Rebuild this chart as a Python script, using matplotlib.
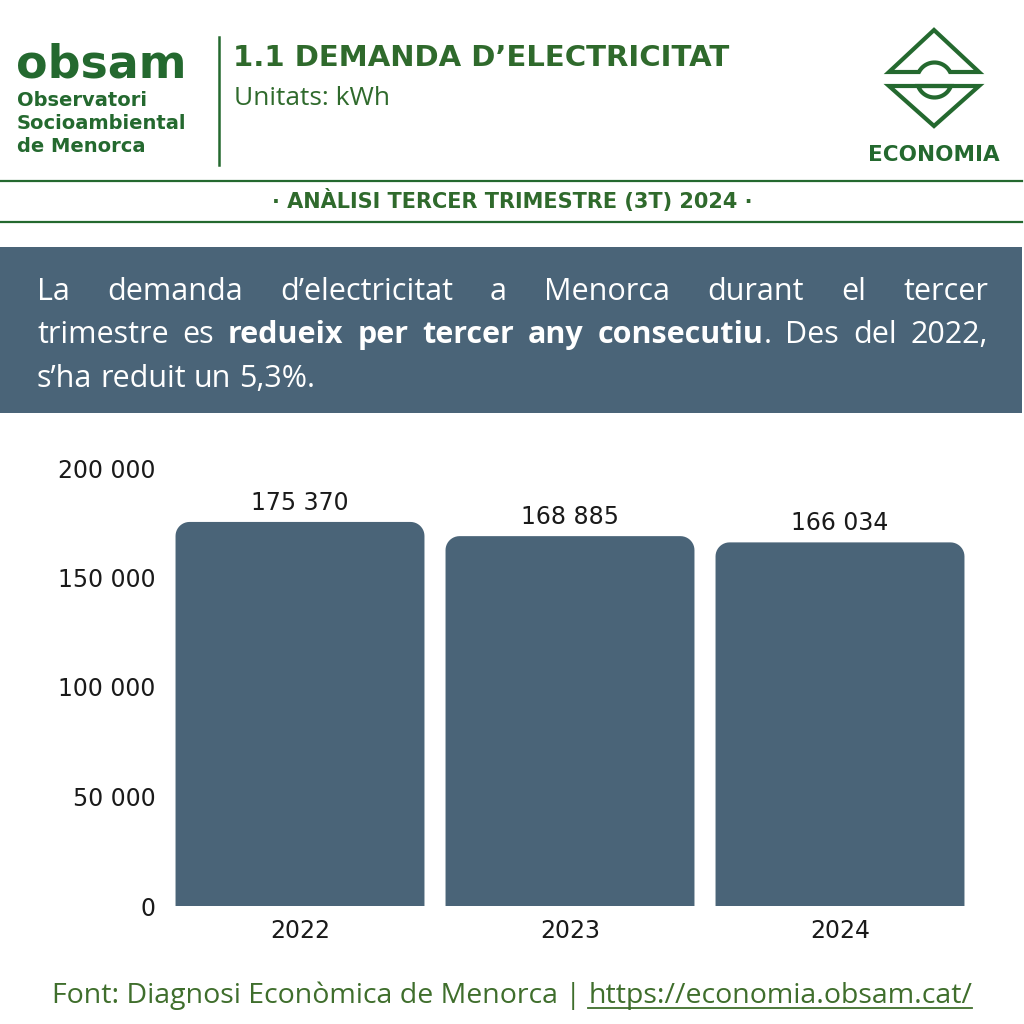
import numpy as np
import matplotlib.pyplot as plt
from matplotlib.patches import Rectangle, Polygon

# data
years = ['2022', '2023', '2024']
demand = [175370, 168885, 166034]
yticks = [0, 50000, 100000, 150000, 200000]

green = '#24692f'
dark_green = '#2f6a2c'
foot_green = '#3f6e2c'
bar_col = '#4a6478'

W = 1024
fig = plt.figure(figsize=(10.24, 10.24), dpi=100)
fig.patch.set_facecolor('white')

# background axes in pixel coordinates for header / banner / footer
bg = fig.add_axes([0, 0, 1, 1])
bg.set_xlim(0, W)
bg.set_ylim(W, 0)
bg.axis('off')

body_font = 'Open Sans'
num_font = 'DejaVu Sans'

# header left: obsam logo text
bg.text(16, 77, 'obsam', fontsize=33, fontweight='black', color=green,
        family='DejaVu Sans', va='baseline', ha='left')
for i, line in enumerate(['Observatori', 'Socioambiental', 'de Menorca']):
    bg.text(17, 106 + i * 23, line, fontsize=14, fontweight='bold', color=green,
            family='DejaVu Sans', va='baseline', ha='left')
bg.plot([219, 219], [37, 165], color=green, lw=1.8)

bg.text(233, 66, '1.1 DEMANDA D\u2019ELECTRICITAT', fontsize=21, fontweight='bold',
        color=dark_green, family='DejaVu Sans', va='baseline', ha='left')
bg.text(234, 105, 'Unitats: kWh', fontsize=19, color=dark_green,
        family=body_font, va='baseline', ha='left')

# economia logo: two triangles whose inner edges bend round a circle
cx, cy, R = 934.5, 80, 17.5
yu, yl = 72, 86
a_u = np.arcsin((cy - yu) / R)
a_l = np.arcsin((yl - cy) / R)
th_u = np.linspace(-a_u, -(np.pi - a_u), 24)  # upper cap (screen up = smaller y)
th_l = np.linspace(np.pi - a_l, a_l, 24)
upper = [(889, yu), (934, 30), (979, yu)] + \
    [(cx + R * np.cos(t), cy + R * np.sin(t)) for t in th_u]
lower = [(889, yl), (934, 126), (979, yl)] + \
    [(cx + R * np.cos(t), cy + R * np.sin(t)) for t in th_l]
for shape in (upper, lower):
    bg.add_patch(Polygon(shape, closed=True, fill=False, edgecolor=green,
                         lw=3.0, joinstyle='miter'))
bg.text(934, 161, 'ECONOMIA', fontsize=15.5, fontweight='bold', color=green,
        family='DejaVu Sans', va='baseline', ha='center')

# separator lines and subtitle
bg.plot([0, 1022], [181, 181], color=green, lw=1.6)
bg.plot([0, 1022], [222, 222], color=green, lw=1.6)
bg.text(512, 208, '\u00b7 AN\u00c0LISI TERCER TRIMESTRE (3T) 2024 \u00b7', fontsize=15,
        fontweight='bold', color=dark_green, family='DejaVu Sans',
        va='baseline', ha='center')

# banner
bg.add_patch(Rectangle((0, 247), 1022, 166, color=bar_col, lw=0))

renderer = fig.canvas.get_renderer()
FS = 22


def place_line(words, y, x0, x1, justify=True):
    # words: list of (text, weight, glued); glued words follow the previous one without a gap
    texts = []
    for w, wt, glued in words:
        t = bg.text(0, y, w, fontsize=FS, fontweight=wt, color='white',
                    family=body_font, va='baseline', ha='left')
        texts.append((t, glued))
    widths = [t.get_window_extent(renderer).width for t, _ in texts]
    n_gaps = sum(1 for i, (_, g) in enumerate(texts) if i > 0 and not g)
    if justify and n_gaps > 0:
        gap = (x1 - x0 - sum(widths)) / n_gaps
    else:
        gap = FS * 100 / 72 * 0.26
    x = x0
    for i, ((t, glued), wd) in enumerate(zip(texts, widths)):
        if i > 0 and not glued:
            x += gap
        t.set_x(x)
        x += wd


line1 = [(w, 'normal', False) for w in 'La demanda d\u2019electricitat a Menorca durant el tercer'.split()]
line2 = ([(w, 'normal', False) for w in 'trimestre es'.split()] +
         [(w, 'bold', False) for w in 'redueix per tercer any consecutiu'.split()] +
         [('.', 'normal', True)] +
         [(w, 'normal', False) for w in 'Des del 2022,'.split()])
line3 = [(w, 'normal', False) for w in 's\u2019ha reduit un 5,3%.'.split()]

place_line(line1, 300, 37, 988)
place_line(line2, 343, 37, 988)
place_line(line3, 387, 37, 988, justify=False)

# chart
ax = fig.add_axes([165 / W, 1 - 906 / W, 810 / W, 438 / W])
ax.set_facecolor('none')
x = np.arange(len(years))
bars = ax.bar(x, demand, width=0.922, color=bar_col)
ax.set_xlim(-0.5, len(years) - 0.5)
ax.set_ylim(0, 200000)
ax.set_yticks(yticks)
ax.set_yticklabels([f'{v:,}'.replace(',', ' ') for v in yticks])
ax.set_xticks(x)
ax.set_xticklabels(years)
ax.tick_params(axis='both', length=0, labelsize=17, labelcolor='#1a1a1a')
ax.tick_params(axis='y', pad=7)
ax.tick_params(axis='x', pad=9)
for lab in ax.get_xticklabels() + ax.get_yticklabels():
    lab.set_family(num_font)
for s in ax.spines.values():
    s.set_visible(False)

# rounded top corners built from each bar's geometry
rx = 14 / 270
ry = 14 * 200000 / 438
ang = np.linspace(0, np.pi / 2, 12)
for b in bars:
    bx, bw, bh = b.get_x(), b.get_width(), b.get_height()
    b.set_visible(False)
    left = [(bx + rx - rx * np.cos(t), bh - ry + ry * np.sin(t)) for t in ang]
    right = [(bx + bw - rx + rx * np.sin(t), bh - ry + ry * np.cos(t)) for t in ang]
    pts = [(bx, 0)] + left + right + [(bx + bw, 0)]
    ax.add_patch(Polygon(pts, closed=True, facecolor=bar_col, edgecolor='none'))
    ax.text(bx + bw / 2, bh + 3200, f'{int(bh):,}'.replace(',', ' '),
            ha='center', va='bottom', fontsize=17, family=num_font, color='#1a1a1a')

# footer
f1 = bg.text(52, 1003, 'Font: Diagnosi Econ\u00f2mica de Menorca | ', fontsize=20.5,
             color=foot_green, family=body_font, va='baseline', ha='left')
e1 = f1.get_window_extent(renderer)
f2 = bg.text(e1.x1, 1003, 'https://economia.obsam.cat/', fontsize=20.5,
             color=foot_green, family=body_font, va='baseline', ha='left')
e2 = f2.get_window_extent(renderer)
bg.plot([e2.x0, e2.x1], [1008, 1008], color=foot_green, lw=1.3)

fig.savefig('out.png', dpi=100, facecolor='white')
